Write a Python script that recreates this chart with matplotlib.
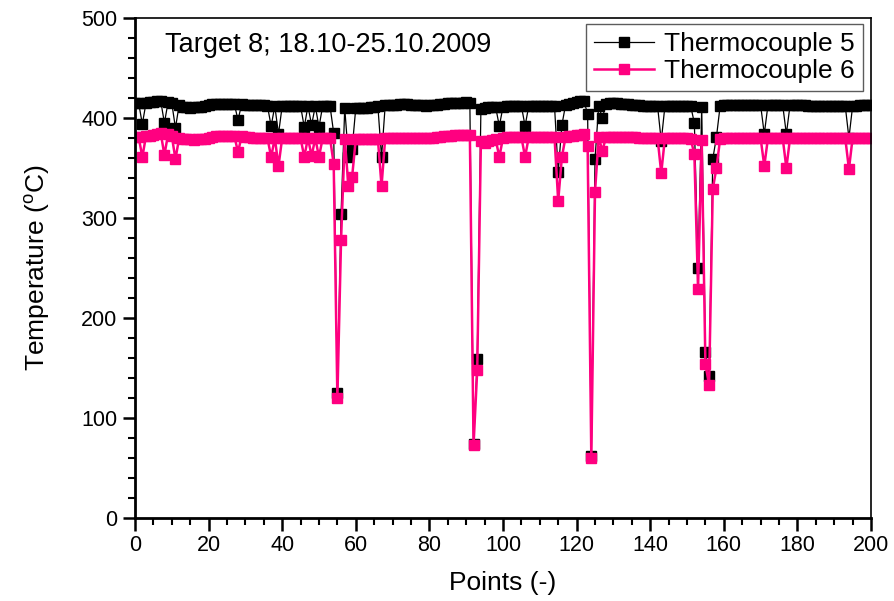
import matplotlib.pyplot as plt
from matplotlib.ticker import MultipleLocator

plt.rcParams['font.family'] = ['Liberation Sans', 'DejaVu Sans']

points = list(range(0, 201))

# Thermocouple 5 readings (deg C), one per point
tc5 = [
    415, 415, 394, 415, 416, 416, 417, 417, 395, 416,
    415, 390, 413, 411, 411, 410, 411, 411, 411, 412,
    413, 414, 414, 414, 414, 414, 414, 414, 398, 414,
    413, 413, 413, 413, 413, 413, 412, 392, 412, 384,
    412, 412, 412, 412, 412, 412, 391, 412, 393, 412,
    391, 412, 412, 412, 385, 125, 304, 410, 361, 369,
    410, 410, 410, 410, 411, 411, 412, 361, 413, 413,
    413, 413, 414, 414, 414, 413, 413, 413, 413, 412,
    413, 413, 413, 414, 414, 415, 415, 415, 415, 415,
    416, 415, 74, 159, 409, 410, 411, 411, 411, 392,
    411, 412, 412, 412, 412, 412, 392, 412, 412, 412,
    412, 412, 412, 412, 412, 346, 393, 413, 414, 415,
    416, 417, 417, 404, 62, 359, 412, 400, 414, 415,
    415, 415, 414, 414, 414, 413, 413, 413, 412, 412,
    412, 412, 412, 377, 412, 412, 412, 412, 412, 412,
    412, 412, 395, 250, 411, 166, 142, 359, 381, 412,
    413, 413, 413, 413, 413, 413, 413, 413, 413, 413,
    413, 384, 413, 413, 413, 413, 413, 384, 413, 413,
    413, 413, 413, 412, 412, 412, 412, 412, 412, 412,
    412, 412, 412, 412, 380, 412, 412, 413, 413, 413,
    413,
]

# Thermocouple 6 readings (deg C), one per point
tc6 = [
    381, 381, 361, 382, 382, 383, 384, 385, 363, 384,
    382, 359, 380, 379, 379, 379, 378, 379, 379, 379,
    380, 381, 382, 382, 382, 382, 382, 382, 366, 382,
    381, 381, 380, 380, 380, 380, 380, 361, 380, 352,
    380, 380, 380, 380, 380, 380, 361, 380, 362, 380,
    361, 380, 380, 380, 354, 120, 278, 379, 332, 341,
    379, 379, 379, 379, 379, 379, 379, 332, 380, 380,
    380, 380, 380, 380, 380, 380, 380, 380, 380, 380,
    380, 380, 381, 381, 382, 382, 382, 383, 383, 383,
    383, 383, 73, 148, 377, 375, 377, 378, 379, 361,
    380, 381, 381, 381, 381, 381, 361, 381, 381, 381,
    381, 381, 381, 381, 381, 317, 361, 381, 382, 382,
    383, 383, 384, 372, 60, 326, 381, 367, 381, 381,
    381, 381, 381, 381, 381, 381, 381, 380, 380, 380,
    380, 380, 380, 345, 380, 380, 380, 380, 380, 380,
    380, 379, 364, 229, 378, 154, 133, 329, 350, 379,
    380, 380, 380, 380, 380, 380, 380, 380, 380, 380,
    380, 352, 380, 380, 380, 380, 380, 350, 380, 380,
    380, 380, 380, 380, 380, 380, 380, 380, 380, 380,
    380, 380, 380, 380, 349, 380, 380, 380, 380, 380,
    380,
]

fig = plt.figure(figsize=(8.95, 6.01), dpi=100)
ax = fig.add_axes([0.1508, 0.138, 0.8224, 0.832])

ax.plot(points, tc5, color='black', lw=0.9, marker='s', ms=7.5,
        mec='black', mfc='black', label='Thermocouple 5')
ax.plot(points, tc6, color='#FF0080', lw=1.8, marker='s', ms=7.5,
        mec='#FF0080', mfc='#FF0080', label='Thermocouple 6')

ax.set_xlim(0, 200)
ax.set_ylim(0, 500)
ax.xaxis.set_major_locator(MultipleLocator(20))
ax.xaxis.set_minor_locator(MultipleLocator(5))
ax.yaxis.set_major_locator(MultipleLocator(100))
ax.yaxis.set_minor_locator(MultipleLocator(20))
ax.tick_params(which='major', direction='out', length=9, width=1.8,
               labelsize=15.5, top=False, right=False)
ax.tick_params(which='minor', direction='out', length=5, width=1.5,
               top=False, right=False)
for side in ['left', 'bottom']:
    ax.spines[side].set_linewidth(2)
for side in ['top', 'right']:
    ax.spines[side].set_linewidth(1.2)

ax.set_xlabel('Points (-)', fontsize=19)
ax.set_ylabel('Temperature ($^{\\mathregular{o}}$C)', fontsize=19)
ax.xaxis.set_label_coords(0.5, -0.106)
ax.yaxis.set_label_coords(-0.113, 0.5)

ax.text(0.041, 0.946, 'Target 8; 18.10-25.10.2009', transform=ax.transAxes,
        fontsize=19.5, va='center', ha='left')

leg = ax.legend(loc='upper right', bbox_to_anchor=(0.989, 0.988),
                borderaxespad=0, fontsize=19, frameon=True, fancybox=False,
                edgecolor='#333333', handlelength=2.3, borderpad=0.3,
                labelspacing=0.12, handletextpad=0.38)
leg.get_frame().set_linewidth(1.0)

fig.savefig('out.png', dpi=100)
